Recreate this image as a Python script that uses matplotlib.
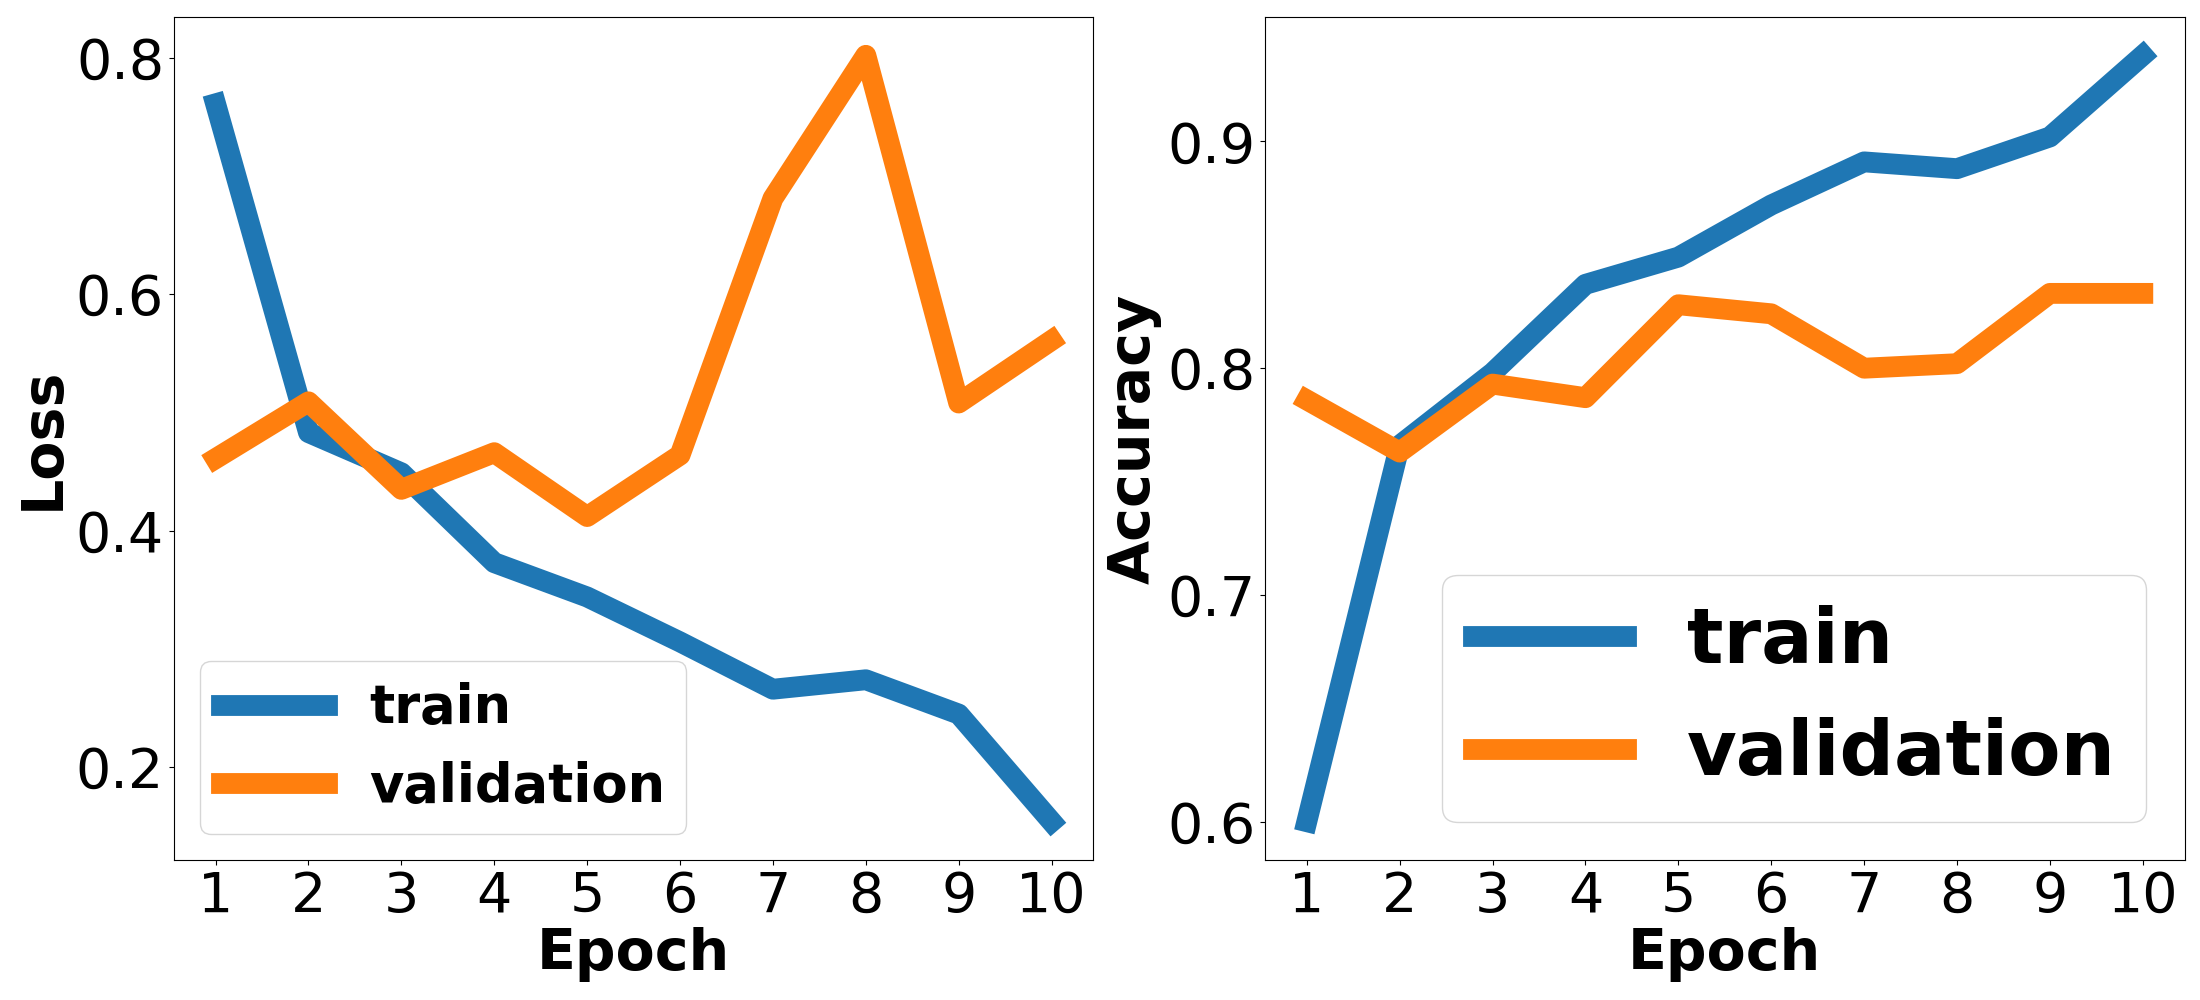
import matplotlib
matplotlib.use('Agg')
import matplotlib.pyplot as plt

# dados
epochs = [1, 2, 3, 4, 5, 6, 7, 8, 9, 10]
train_loss = [0.761, 0.483, 0.449, 0.373, 0.344, 0.306, 0.266, 0.274, 0.245, 0.154]
val_loss = [0.461, 0.509, 0.435, 0.466, 0.412, 0.464, 0.681, 0.802, 0.508, 0.561]
train_acc = [0.600, 0.766, 0.798, 0.837, 0.849, 0.872, 0.891, 0.888, 0.902, 0.938]
val_acc = [0.786, 0.763, 0.793, 0.787, 0.828, 0.824, 0.800, 0.802, 0.833, 0.833]

cor_train = '#1f77b4'
cor_val = '#ff7f0e'
lw = 15

fig = plt.figure(figsize=(22, 10), dpi=100)
ax1 = fig.add_axes([0.079, 0.140, 0.418, 0.843])
ax2 = fig.add_axes([0.575, 0.140, 0.418, 0.843])

# Loss
ax1.plot(epochs, train_loss, color=cor_train, linewidth=lw, label='train')
ax1.plot(epochs, val_loss, color=cor_val, linewidth=lw, label='validation')
ax1.set_xticks(epochs)
ax1.set_yticks([0.2, 0.4, 0.6, 0.8])
ax1.tick_params(labelsize=40)
ax1.set_xlabel('Epoch', fontsize=41, fontweight='bold', labelpad=2)
ax1.set_ylabel('Loss', fontsize=41, fontweight='bold')
ax1.legend(loc='lower left', prop={'size': 38, 'weight': 'bold'})

# Accuracy
ax2.plot(epochs, train_acc, color=cor_train, linewidth=lw, label='train')
ax2.plot(epochs, val_acc, color=cor_val, linewidth=lw, label='validation')
ax2.set_xticks(epochs)
ax2.set_yticks([0.6, 0.7, 0.8, 0.9])
ax2.tick_params(labelsize=40)
ax2.set_xlabel('Epoch', fontsize=41, fontweight='bold', labelpad=2)
ax2.set_ylabel('Accuracy', fontsize=41, fontweight='bold')
ax2.legend(loc='lower right', prop={'size': 55, 'weight': 'bold'})

fig.savefig('out.png', dpi=100)
